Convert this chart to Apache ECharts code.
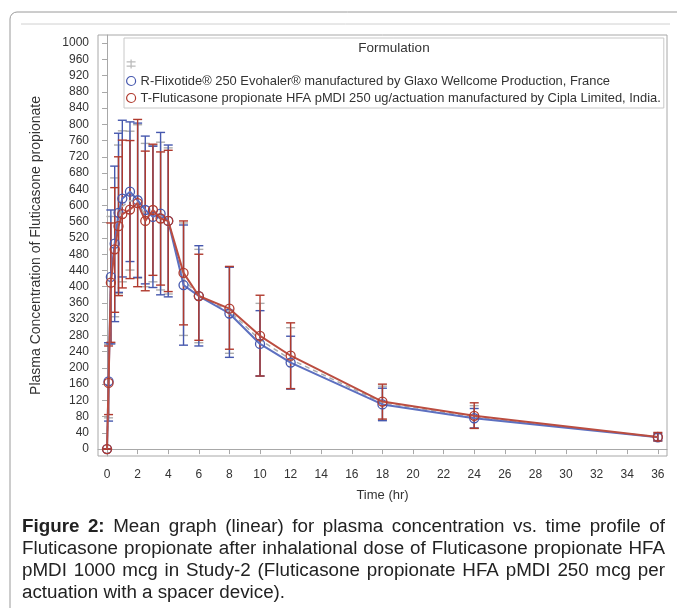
<!DOCTYPE html>
<html><head><meta charset="utf-8">
<script src="https://cdn.jsdelivr.net/npm/echarts@6/dist/echarts.min.js"></script>
<style>html,body{margin:0;padding:0;background:#fff}#c{width:677px;height:608px}</style>
</head><body><div id="c"></div>
<script>
const times = [0, 0.1, 0.25, 0.5, 0.75, 1, 1.5, 2, 2.5, 3, 3.5, 4, 5, 6, 8, 10, 12, 18, 24, 36];
const refMean  = [0, 167, 424, 506, 582, 617, 634, 613, 589, 572, 580, 562, 404, 377, 334, 259, 213, 110, 76, 29];
const refUpper = [0, 262, 589, 697, 778, 810, 806, 803, 771, 746, 780, 749, 552, 501, 448, 341, 278, 150, 100, 38];
const refLower = [0, 69, 259, 314, 386, 424, 462, 423, 407, 398, 380, 375, 256, 254, 226, 180, 148, 70, 52, 21];
const testMean  = [0, 163, 410, 492, 549, 579, 590, 606, 562, 589, 568, 562, 434, 377, 346, 279, 230, 117, 82, 30];
const testUpper = [0, 254, 557, 644, 720, 761, 760, 812, 734, 751, 732, 736, 562, 480, 450, 379, 311, 160, 114, 41];
const testLower = [0, 85, 263, 337, 378, 397, 420, 400, 390, 428, 404, 388, 306, 268, 246, 180, 149, 74, 51, 20];
const allMean  = [0, 165, 417, 499, 566, 598, 612, 610, 576, 580, 574, 562, 419, 377, 340, 269, 221, 114, 79, 30];
const allUpper = [0, 258, 573, 668, 749, 784, 783, 799, 753, 748, 756, 742, 557, 492, 449, 359, 299, 155, 107, 40];
const allLower = [0, 77, 261, 326, 383, 412, 441, 421, 400, 412, 392, 382, 280, 262, 236, 180, 148, 72, 51, 20];
const yTicks = [0,40,80,120,160,200,240,280,320,360,400,440,480,520,560,600,640,680,720,760,800,840,880,920,960,1000];
const xTicks = [0,2,4,6,8,10,12,14,16,18,20,22,24,26,28,30,32,34,36];
const refName = 'R-Flixotide\u00ae 250 Evohaler\u00ae manufactured by Glaxo Wellcome Production, France';
const testName = 'T-Fluticasone propionate HFA pMDI 250 ug/actuation manufactured by Cipla Limited, India.';
const allName = ' ';
const captionLines = [
  'Figure 2: Mean graph (linear) for plasma concentration vs. time profile of',
  'Fluticasone propionate after inhalational dose of Fluticasone propionate HFA',
  'pMDI 1000 mcg in Study-2 (Fluticasone propionate HFA pMDI 250 mcg per',
  'actuation with a spacer device).'
];

const FONT = '"Liberation Sans", Arial, sans-serif';
const BLUE = '#4658ae', RED = '#b03a2e', GREY = '#adadad';

function pairs(m){ return times.map((t,i)=>[t, m[i]]); }
function bars(lo, hi){ return times.map((t,i)=>[t, lo[i], hi[i]]); }
function errSeries(lo, hi, color){
  return {
    type:'custom', data: bars(lo,hi), encode:{x:0, y:[1,2]}, silent:true, z:3,
    renderItem(params, api){
      const x = api.value(0), l = api.value(1), h = api.value(2);
      const a = api.coord([x,l]), b = api.coord([x,h]);
      const hw = 4.5;
      const st = {stroke:color, lineWidth:1.4};
      return {type:'group', children:[
        {type:'line', shape:{x1:a[0],y1:a[1],x2:b[0],y2:b[1]}, style:st},
        {type:'line', shape:{x1:b[0]-hw,y1:b[1],x2:b[0]+hw,y2:b[1]}, style:st},
        {type:'line', shape:{x1:a[0]-hw,y1:a[1],x2:a[0]+hw,y2:a[1]}, style:st}
      ]};
    }
  };
}

// justified caption built as word text elements
const CAP_SIZE = 18.8, CAP_LEFT = 22, CAP_RIGHT = 665, CAP_TOP = 527, CAP_LH = 22;
const mctx = document.createElement('canvas').getContext('2d');
function wordW(w, bold){ mctx.font = (bold?'bold ':'') + CAP_SIZE + 'px ' + FONT; return mctx.measureText(w).width; }
const capGraphics = [];
captionLines.forEach((line, li) => {
  const words = line.split(' ');
  const bolds = words.map((w,i)=> li===0 && i<2);
  const widths = words.map((w,i)=>wordW(w, bolds[i]));
  const sum = widths.reduce((a,b)=>a+b,0);
  const last = li === captionLines.length-1;
  let gap = last ? wordW(' ', false) : (CAP_RIGHT - CAP_LEFT - sum)/(words.length-1);
  if (gap < 2) gap = 2;
  let x = CAP_LEFT;
  words.forEach((w,i)=>{
    capGraphics.push({type:'text', x:x, y:CAP_TOP + li*CAP_LH, z:100, silent:true,
      style:{text:w, font:(bolds[i]?'bold ':'') + CAP_SIZE+'px '+FONT, fill:'#222', verticalAlign:'middle'}});
    x += widths[i] + gap;
  });
});

const chart = echarts.init(document.getElementById('c'), null, {renderer:'canvas'});
chart.setOption({
  animation:false,
  textStyle:{fontFamily:FONT},
  grid:{left:98, right:10, top:35, bottom:152, show:true, borderColor:'#a8a8a8', borderWidth:1, backgroundColor:'#fff'},
  xAxis:{type:'value', min:-0.59, max:36.6,
    name:'Time (hr)', nameLocation:'middle', nameGap:33,
    nameTextStyle:{fontSize:13, color:'#333', fontFamily:FONT},
    axisLine:{show:true, lineStyle:{color:'#a8a8a8'}},
    axisTick:{show:true, length:5, lineStyle:{color:'#a8a8a8'}, customValues:xTicks},
    axisLabel:{fontSize:12, color:'#333', margin:13, customValues:xTicks, fontFamily:FONT, formatter:v=>String(v)},
    splitLine:{show:false}},
  yAxis:{type:'value', min:-17, max:1020,
    name:'Plasma Concentration of Fluticasone propionate', nameLocation:'middle', nameGap:55,
    nameTextStyle:{fontSize:14, color:'#333', fontFamily:FONT},
    axisLine:{show:true, lineStyle:{color:'#a8a8a8'}},
    axisTick:{show:true, length:5, lineStyle:{color:'#a8a8a8'}, customValues:yTicks},
    axisLabel:{fontSize:12, color:'#333', margin:9, customValues:yTicks, fontFamily:FONT, formatter:v=>String(v)},
    splitLine:{show:false}},
  legend:{
    orient:'vertical', left:124, top:38, padding:[19, 3, 3, 2],
    backgroundColor:'#fff', borderColor:'#c8c8c8', borderWidth:1,
    itemWidth:9, itemHeight:9, itemGap:3, selectedMode:false,
    textStyle:{fontSize:12.9, color:'#333', fontFamily:FONT, lineHeight:14},
    data:[
      {name:allName, icon:'path://M0,2h10v1.4h-10z M4.3,0h1.4v10h-1.4z M0,6.6h10v1.4h-10z', itemStyle:{color:'#bbb'}},
      {name:refName, icon:'circle', itemStyle:{color:'rgba(0,0,0,0)', borderColor:BLUE, borderWidth:1.2}},
      {name:testName, icon:'circle', itemStyle:{color:'rgba(0,0,0,0)', borderColor:RED, borderWidth:1.2}}
    ]
  },
  graphic:[
    {type:'rect', shape:{x:10, y:12, width:700, height:640, r:7}, style:{fill:'none', stroke:'#9a9a9a', lineWidth:1}, z:-10, silent:true},
    {type:'line', shape:{x1:21, y1:24, x2:670, y2:24}, style:{stroke:'#d0d0d0', lineWidth:1}, z:-10, silent:true},
    {type:'text', x:394, y:48, z:100, style:{text:'Formulation', font:'13.5px '+FONT, fill:'#333', align:'center', verticalAlign:'middle'}}
  ].concat(capGraphics),
  series:[
    errSeries(allLower, allUpper, GREY),
    errSeries(refLower, refUpper, BLUE),
    errSeries(testLower, testUpper, RED),
    {name:allName, type:'line', data:pairs(allMean), showSymbol:false, symbol:'none', z:4,
      lineStyle:{color:GREY, width:1.5, type:[5,4]}, itemStyle:{color:'#bbb'}},
    {name:refName, type:'line', data:pairs(refMean), symbol:'circle', symbolSize:9, z:5,
      lineStyle:{color:'#5d70c0', width:2}, itemStyle:{color:'rgba(0,0,0,0)', borderColor:BLUE, borderWidth:1.3}},
    {name:testName, type:'line', data:pairs(testMean), symbol:'circle', symbolSize:9, z:6,
      lineStyle:{color:'#bb4d40', width:2}, itemStyle:{color:'rgba(0,0,0,0)', borderColor:RED, borderWidth:1.3}}
  ]
});
</script></body></html>
